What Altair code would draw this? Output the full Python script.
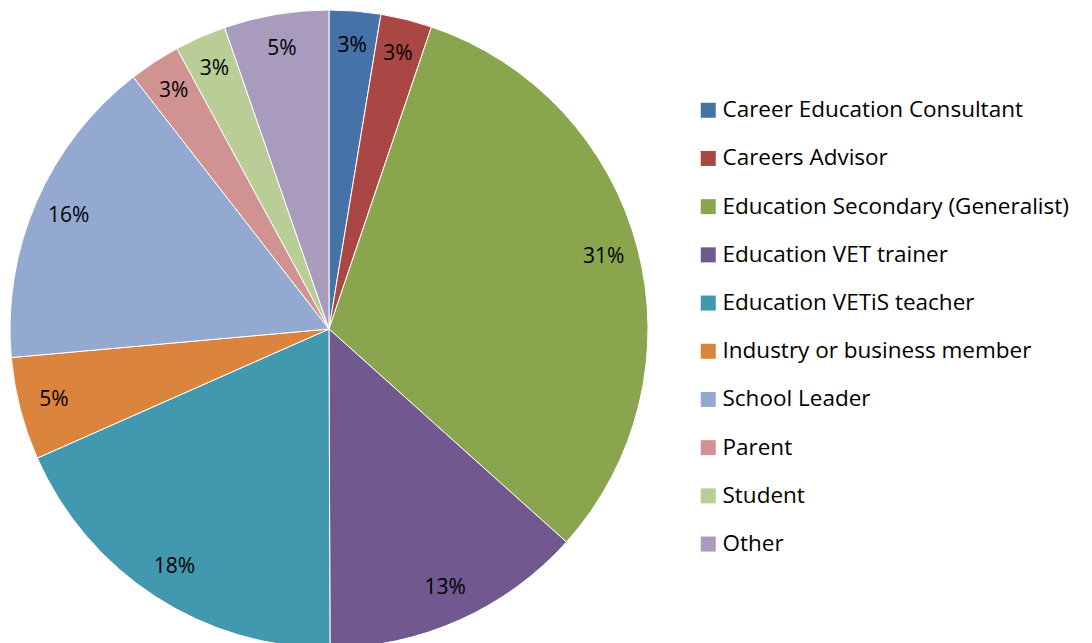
import altair as alt
import pandas as pd

categories = [
    "Career Education Consultant",
    "Careers Advisor",
    "Education Secondary (Generalist)",
    "Education VET trainer",
    "Education VETiS teacher",
    "Industry or business member",
    "School Leader",
    "Parent",
    "Student",
    "Other",
]
shares = [2.6, 2.6, 31.4, 13.3, 18.4, 5.2, 15.9, 2.6, 2.6, 5.3]
colors = ["#4572A7", "#AA4643", "#89A54E", "#71588F", "#4198AF",
          "#DB843D", "#93A9CF", "#D19392", "#B9CD96", "#A99BBD"]

df = pd.DataFrame({"category": categories, "share": shares, "order": list(range(len(categories)))})

base = alt.Chart(df).transform_joinaggregate(
    total="sum(share)"
).transform_calculate(
    label="format(datum.share / datum.total, '.0%')"
).encode(
    theta=alt.Theta("share:Q", stack=True),
    order=alt.Order("order:Q"),
)

arcs = base.mark_arc(radius=319, stroke="white", strokeWidth=1).encode(
    color=alt.Color(
        "category:N",
        scale=alt.Scale(domain=categories, range=colors),
        sort=categories,
        legend=alt.Legend(
            title=None,
            orient="none",
            legendX=688,
            legendY=88,
            symbolType="square",
            symbolSize=225,
            symbolStrokeWidth=0,
            labelFontSize=22.5,
            labelFont="Open Sans",
            labelColor="#000000",
            labelLimit=500,
            labelOffset=3,
            rowPadding=25.2,
        ),
    )
)

texts = base.mark_text(radius=284, fontSize=21, font="Open Sans", color="#000000").encode(
    text="label:N"
)

chart = alt.layer(arcs, texts).properties(
    width=640, height=636, padding=0
).configure_view(stroke=None)

chart.save("out.html", embed_options={"renderer": "svg", "actions": False})
